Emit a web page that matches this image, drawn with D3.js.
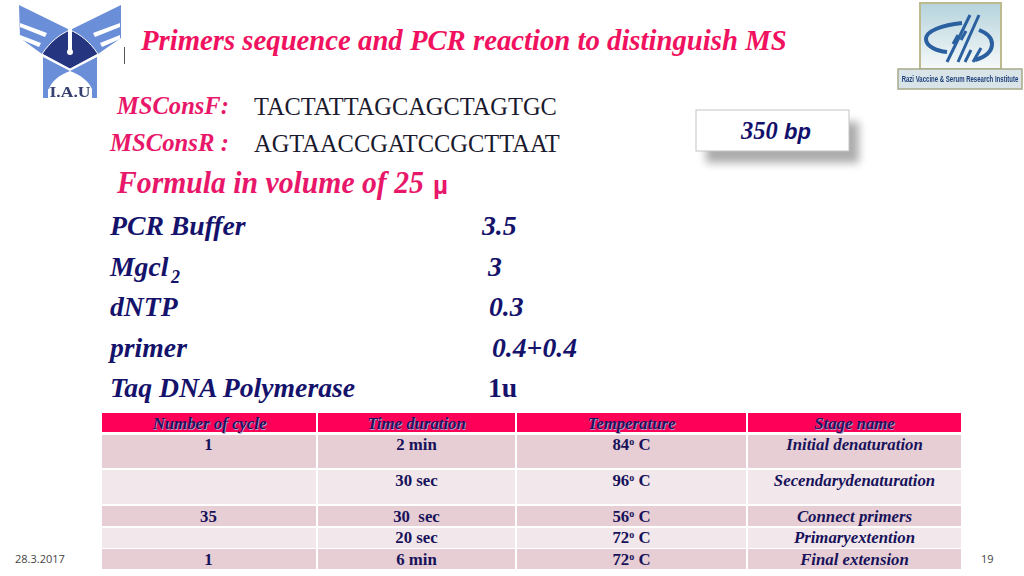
<!DOCTYPE html>
<html><head><meta charset="utf-8">
<script src="https://cdn.jsdelivr.net/npm/d3@7/dist/d3.min.js"></script>
<style>html,body{margin:0;padding:0;background:#fff;overflow:hidden}svg{display:block}</style>
</head><body><svg id="c" width="1024" height="576"></svg>
<script>
const titleText = "Primers sequence and PCR reaction to distinguish MS";
const primerNames = ["MSConsF:", "MSConsR :"];
const primerSeqs = ["TACTATTAGCAGCTAGTGC", "AGTAACCGATCCGCTTAAT"];
const formulaTitle = "Formula in volume of 25";
const reagents = ["PCR Buffer", "Mgcl", "dNTP", "primer", "Taq DNA Polymerase"];
const amounts = ["3.5", "3", "0.3", "0.4+0.4", "1u"];
const headers = ["Number of cycle", "Time duration", "Temperature", "Stage name"];
const cycles = ["1", "", "35", "", "1"];
const times = ["2 min", "30 sec", "30  sec", "20 sec", "6 min"];
const temps = ["84", "96", "56", "72", "72"];
const stages = ["Initial denaturation", "Secendarydenaturation", "Connect primers", "Primaryextention", "Final extension"];

const svg = d3.select("#c");
const defs = svg.append("defs");
const blur = defs.append("filter").attr("id","sh").attr("x","-20%").attr("y","-40%").attr("width","150%").attr("height","200%");
blur.append("feGaussianBlur").attr("stdDeviation",4);
const soft = defs.append("filter").attr("id","soft");
soft.append("feGaussianBlur").attr("stdDeviation",0.4);
const grad = defs.append("linearGradient").attr("id","razi").attr("x1",0).attr("x2",0).attr("y1",0).attr("y2",1);
grad.append("stop").attr("offset",0).attr("stop-color","#b5d3dc");
grad.append("stop").attr("offset",1).attr("stop-color","#f6f9f9");

const serif = "'Liberation Serif','Times New Roman',serif";
const sans = "'Liberation Sans',Arial,sans-serif";
const pink = "#f0115f", navy = "#15126b", ink = "#17125a";
function txt(parent,x,y,s,size,fill,o={}){
  const t = parent.append("text").attr("x",x).attr("y",y).text(s)
    .attr("font-family",o.family||serif).attr("font-size",size).attr("fill",fill)
    .attr("font-weight",o.weight||"bold").attr("font-style",o.style||"italic")
    .attr("text-anchor",o.anchor||"start").style("white-space","pre");
  if(o.len){
    const k = o.len / t.node().getComputedTextLength();
    t.attr("transform",`translate(${x},0) scale(${k},1) translate(${-x},0)`);
  }
  return t;
}

/* left logo */
const L = svg.append("g").attr("filter","url(#soft)");
const blue="#6a8ed8", dark="#27357f";
L.append("path").attr("fill",blue).attr("d","M19,5 L72,31 L42,54 L20,38 Z M121,5 L121,38 L98,54 L68,31 Z");
L.append("path").attr("fill","#fff").attr("d","M20,23 L47,33 L45,37 L20,27 Z M20,35 L41,43 L39,47 L20,39 Z M120,23 L120,27 L95,37 L93,33 Z M120,35 L120,39 L102,47 L100,43 Z");
L.append("path").attr("fill",dark).attr("stroke","#fff").attr("d","M42,54 C50,42 60,34 70,30 C80,34 90,42 98,54 L70,69 Z");
L.append("rect").attr("x",68).attr("y",29).attr("width",4).attr("height",23).attr("fill","#fff");
L.append("circle").attr("cx",70).attr("cy",52).attr("r",3).attr("fill","#fff");
L.append("path").attr("fill",blue).attr("d","M43,57 L70,71 L97,57 L97,98 L43,98 Z");
L.append("path").attr("fill","#fff").attr("d","M49,89 C52,80 60,75 70,71 C80,75 88,80 92,89 Z");
L.append("rect").attr("x",48).attr("y",89).attr("width",44).attr("height",9).attr("fill","#fff");
txt(L,70,97,"I.A.U",14,"#34406f",{anchor:"middle",style:"normal",len:41});
svg.append("rect").attr("x",124).attr("y",47).attr("width",1).attr("height",17).attr("fill","#555");

/* right logo */
const R = svg.append("g").attr("filter","url(#soft)");
R.append("rect").attr("x",920).attr("y",3).attr("width",81).attr("height",66).attr("fill","url(#razi)").attr("stroke","#bdbb8e").attr("stroke-width",2);
R.append("path").attr("fill","none").attr("stroke","#2a5fa0").attr("stroke-width",4)
  .attr("d","M962,23 C942,25 926,31 926,39 C926,46 936,51 947,52");
R.append("path").attr("fill","none").attr("stroke","#2a5fa0").attr("stroke-width",4)
  .attr("d","M979,30 C987,33 992,38 992,44 C992,52 985,57 975,60");
R.selectAll("line.s").data([[947,62,970,15],[958,62,979,15],[965,62,971,50],[973,62,981,48],[953,44,958,35],[961,40,966,31]])
  .join("line").attr("x1",d=>d[0]).attr("y1",d=>d[1]).attr("x2",d=>d[2]).attr("y2",d=>d[3])
  .attr("stroke","#2a5fa0").attr("stroke-width",3);
R.append("rect").attr("x",898).attr("y",69).attr("width",124).attr("height",20).attr("fill","#d9e4e8").attr("stroke","#a9a98a").attr("stroke-width",1.5);
txt(R,960,82,"Razi Vaccine & Serum Research Institute",9.5,"#1d3f7a",{family:sans,anchor:"middle",style:"normal",len:117});

/* title */
txt(svg,141,50,titleText,29.5,pink,{len:646});

/* primers */
const primerX = [117,110], primerY = [114,151], primerSeqY = [115,152];
primerNames.forEach((n,i)=>{
  txt(svg,primerX[i],primerY[i],n,25,"#e8176a",{len:112+(i?7:0)});
  txt(svg,254,primerSeqY[i],primerSeqs[i],25,"#1a1a2e",{weight:"normal",style:"normal",len:i?306:303});
});

/* formula */
txt(svg,117,193,formulaTitle,31,"#e8176a",{len:307});
txt(svg,433,194,"µ",26,"#e8176a",{family:sans,style:"normal"});

/* reagents */
const listY = d3.scalePoint().domain(d3.range(reagents.length)).range([235,397]);
const amountX = [482,488,489,492,488];
reagents.forEach((r,i)=>{
  txt(svg,110,listY(i),r,27.7,navy);
  txt(svg,amountX[i],listY(i),amounts[i],27.7,navy,{style:i===4?"normal":"italic"});
});
txt(svg,171,283,"2",18,navy);

/* table */
const colEdges = [102,317,516,747,962];
const rowEdges = [[413,432],[435,468],[470,504],[506,526],[528,548],[549,569]];
const rowBase = [450,486,522,543,565];
const fs = 16.8;
const tbl = svg.append("g");
const band = i=>({x:colEdges[i]+(i?1:0), w:colEdges[i+1]-colEdges[i]-(i?1:0), c:(colEdges[i]+colEdges[i+1])/2});
headers.forEach((h,i)=>{
  const b=band(i);
  tbl.append("rect").attr("x",b.x).attr("y",rowEdges[0][0]).attr("width",b.w-1).attr("height",rowEdges[0][1]-rowEdges[0][0]).attr("fill","#ff0059");
  txt(tbl,b.c+1,429.5,h,fs,"#b79ac0",{anchor:"middle"});
  txt(tbl,b.c,429,h,fs,"#23105e",{anchor:"middle"});
});
const rowFill = ["#e6ced4","#f2e7eb"];
cycles.forEach((_,r)=>{
  headers.forEach((_,i)=>{
    const b=band(i), e=rowEdges[r+1];
    tbl.append("rect").attr("x",b.x).attr("y",e[0]).attr("width",b.w-1).attr("height",e[1]-e[0]).attr("fill",rowFill[r%2]);
  });
  const y=rowBase[r];
  txt(tbl,band(0).c-1,y,cycles[r],fs,ink,{anchor:"middle",style:"normal"});
  txt(tbl,band(1).c,y,times[r],fs,ink,{anchor:"middle",style:"normal"});
  const t=tbl.append("text").attr("x",band(2).c).attr("y",y).attr("text-anchor","middle")
    .attr("font-family",serif).attr("font-size",fs).attr("font-weight","bold").attr("fill",ink);
  t.append("tspan").text(temps[r]);
  t.append("tspan").text("o").attr("font-size",10).attr("dy",-5);
  t.append("tspan").text(" C").attr("dy",5);
  txt(tbl,band(3).c,y,stages[r],fs,ink,{anchor:"middle"});
});

/* box */
svg.append("rect").attr("x",706).attr("y",122).attr("width",153).attr("height",41).attr("fill","#777").attr("opacity",0.6).attr("filter","url(#sh)");
svg.append("rect").attr("x",696).attr("y",110).attr("width",153).attr("height",41).attr("fill","#fff").attr("stroke","#c4c4c4");
const bt=svg.append("text").attr("x",776).attr("y",139).attr("text-anchor","middle").attr("font-weight","bold").attr("font-style","italic").attr("fill","#12106b").attr("font-size",24.5);
bt.append("tspan").attr("font-family",serif).text("350 ");
bt.append("tspan").attr("font-family",sans).attr("font-size",22).text("bp");

/* footer */
txt(svg,15,563,"28.3.2017",11,"#444",{family:"'Open Sans',sans-serif",weight:"normal",style:"normal"});
txt(svg,981,563,"19",11,"#444",{family:"'Open Sans',sans-serif",weight:"normal",style:"normal"});
</script></body></html>
